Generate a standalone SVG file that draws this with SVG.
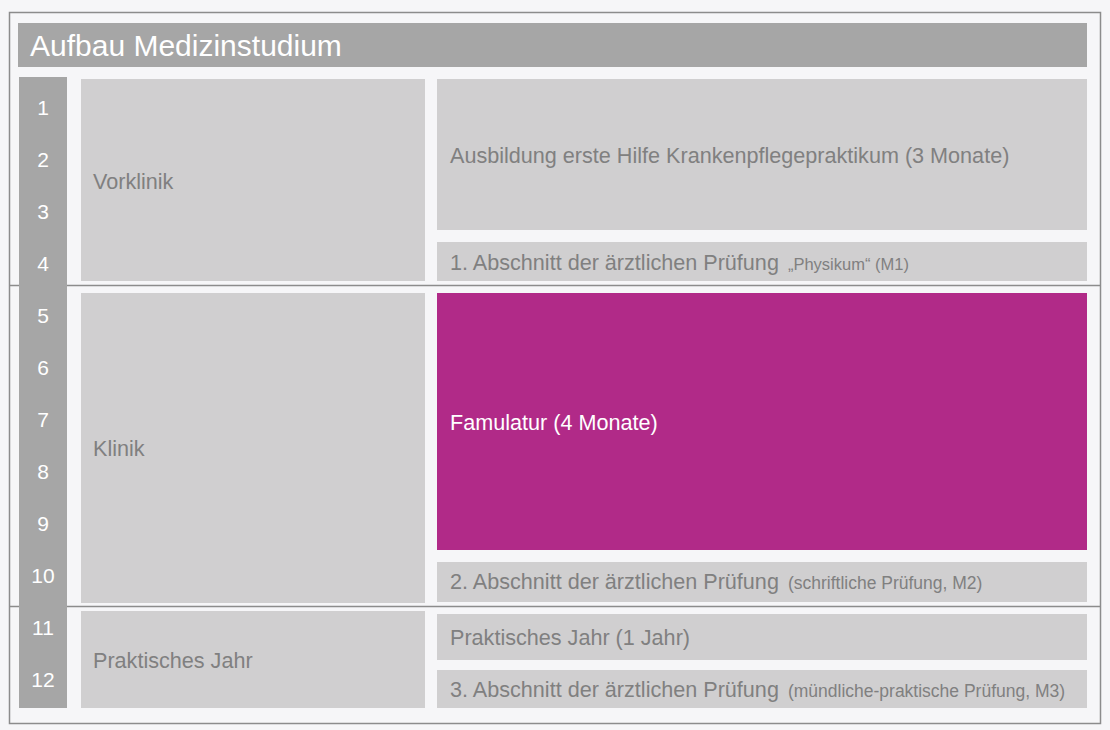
<svg xmlns="http://www.w3.org/2000/svg" width="1110" height="730" viewBox="0 0 1110 730">
<style>
  .bg { fill: #f6f6f8; }
  .box { fill: #d0cfd0; }
  .dark { fill: #a6a6a6; }
  .mag { fill: #b12a88; }
  .sep { stroke: #8c8c8c; stroke-width: 1.5; fill: none; }
  text { font-family: "Liberation Sans", Arial, sans-serif; }
  .lbl { fill: #808080; font-size: 21.6px; }
  .sm { font-size: 17.5px; }
  .num { fill: #ffffff; font-size: 21px; text-anchor: middle; }
  .title { fill: #ffffff; font-size: 30px; }
  .wlbl { fill: #ffffff; font-size: 21.6px; }
</style>
<rect class="bg" x="0" y="0" width="1110" height="730"/>
<rect class="sep" x="9.5" y="12.5" width="1091" height="711"/>
<g id="separators">
  <line class="sep" x1="9.5" y1="285.5" x2="1100.5" y2="285.5"/>
  <line class="sep" x1="9.5" y1="606.5" x2="1100.5" y2="606.5"/>
</g>
<g id="title">
  <rect class="dark" x="18" y="23" width="1069" height="44"/>
  <text class="title" x="30" y="56">Aufbau Medizinstudium</text>
</g>
<g id="semesters">
  <rect class="dark" x="19" y="77" width="48" height="631"/>
  <text class="num" x="43" y="115">1</text>
  <text class="num" x="43" y="167">2</text>
  <text class="num" x="43" y="219">3</text>
  <text class="num" x="43" y="271">4</text>
  <text class="num" x="43" y="323">5</text>
  <text class="num" x="43" y="375">6</text>
  <text class="num" x="43" y="427">7</text>
  <text class="num" x="43" y="479">8</text>
  <text class="num" x="43" y="531">9</text>
  <text class="num" x="43" y="583">10</text>
  <text class="num" x="43" y="635">11</text>
  <text class="num" x="43" y="687">12</text>
</g>
<g id="vorklinik">
  <rect class="box" x="81" y="79" width="344" height="202"/>
  <text class="lbl" x="93" y="189">Vorklinik</text>
</g>
<g id="klinik">
  <rect class="box" x="81" y="293" width="344" height="310"/>
  <text class="lbl" x="93" y="456">Klinik</text>
</g>
<g id="praktisches-jahr">
  <rect class="box" x="81" y="611" width="344" height="97"/>
  <text class="lbl" x="93" y="668">Praktisches Jahr</text>
</g>
<g id="ausbildung">
  <rect class="box" x="437" y="79" width="650" height="151"/>
  <text class="lbl" x="450" y="163">Ausbildung erste Hilfe Krankenpflegepraktikum (3 Monate)</text>
</g>
<g id="m1">
  <rect class="box" x="437" y="242" width="650" height="39"/>
  <text class="lbl" x="450" y="270">1. Abschnitt der ärztlichen Prüfung <tspan class="sm" dx="3" style="font-size:16.5px">„Physikum“ (M1)</tspan></text>
</g>
<g id="famulatur">
  <rect class="mag" x="437" y="293" width="650" height="257"/>
  <text class="wlbl" x="450" y="430">Famulatur (4 Monate)</text>
</g>
<g id="m2">
  <rect class="box" x="437" y="562" width="650" height="40"/>
  <text class="lbl" x="450" y="589">2. Abschnitt der ärztlichen Prüfung <tspan class="sm" dx="3">(schriftliche Prüfung, M2)</tspan></text>
</g>
<g id="pj">
  <rect class="box" x="437" y="614" width="650" height="46"/>
  <text class="lbl" x="450" y="645">Praktisches Jahr (1 Jahr)</text>
</g>
<g id="m3">
  <rect class="box" x="437" y="670" width="650" height="38"/>
  <text class="lbl" x="450" y="697">3. Abschnitt der ärztlichen Prüfung <tspan class="sm" dx="3">(mündliche-praktische Prüfung, M3)</tspan></text>
</g>
<g id="connectors"></g>
</svg>
